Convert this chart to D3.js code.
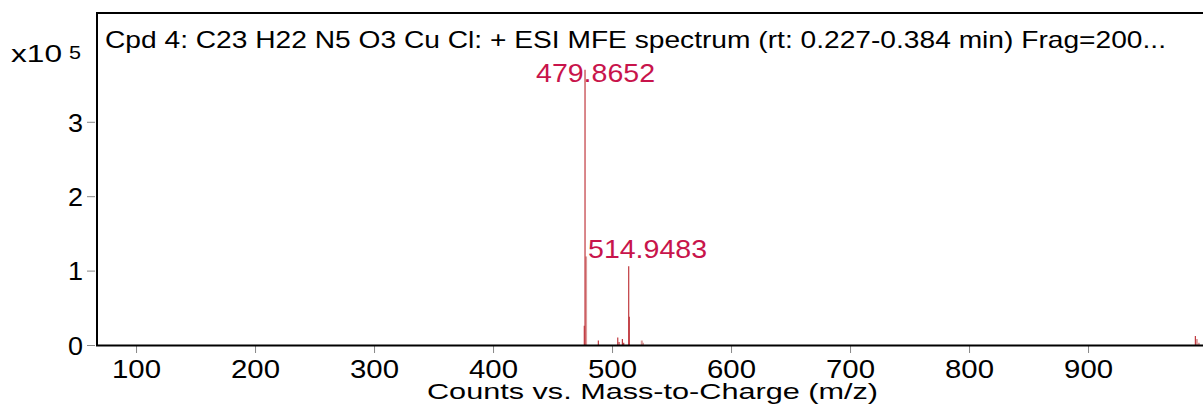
<!DOCTYPE html>
<html>
<head>
<meta charset="utf-8">
<script src="https://cdn.jsdelivr.net/npm/d3@7"></script>
<style>
  body { margin: 0; background: #fff; }
  svg { display: block; font-family: "Liberation Sans", Arial, sans-serif; }
  .tick line { stroke: #888; }
</style>
</head>
<body>
<svg width="1203" height="408"></svg>
<script>
// Data (intensity in units of 1e5 counts)
const title = 'Cpd 4: C23 H22 N5 O3 Cu Cl: + ESI MFE spectrum (rt: 0.227-0.384 min) Frag=200...';
const xTicks = [100, 200, 300, 400, 500, 600, 700, 800, 900];
const yTicks = [0, 1, 2, 3];

const mainMz = [476.7, 477.3, 488.5, 504.8, 505.9, 508.7, 509.8, 514.0, 514.5, 990.2];
const mainInt = [0.26, 3.70, 0.06, 0.10, 0.04, 0.08, 0.03, 1.06, 0.38, 0.12];

const minorMz = [478.2, 525.0, 526.0, 991.4, 993.1];
const minorInt = [1.19, 0.06, 0.03, 0.08, 0.03];

const peakLabels = ['479.8652', '514.9483'];

const svg = d3.select('svg');

const xScale = d3.scaleLinear()
  .domain([67.2, 996.6])
  .range([97, 1203]);

const yScale = d3.scaleLinear()
  .domain([0, 4.462])
  .range([345, 13]);

// axes
const xAxis = svg.append('g')
  .attr('transform', 'translate(0,346)')
  .call(d3.axisBottom(xScale).tickValues(xTicks).tickSize(7).tickSizeOuter(0));
xAxis.select('.domain').remove();
xAxis.selectAll('text')
  .attr('fill', '#000')
  .attr('font-size', 25)
  .attr('dy', 0)
  .attr('y', 32)
  .attr('textLength', 49)
  .attr('lengthAdjust', 'spacingAndGlyphs');

const yAxis = svg.append('g')
  .attr('transform', 'translate(95,0)')
  .call(d3.axisLeft(yScale).tickValues(yTicks).tickFormat(d3.format('d')).tickSize(8).tickSizeOuter(0));
yAxis.select('.domain').remove();
yAxis.selectAll('text')
  .attr('fill', '#000')
  .attr('font-size', 26)
  .attr('x', -12)
  .attr('dy', '0.36em')
  .attr('textLength', 15)
  .attr('lengthAdjust', 'spacingAndGlyphs');

// frame
svg.append('line')
  .attr('x1', 97).attr('x2', 97)
  .attr('y1', 12).attr('y2', 346)
  .attr('stroke', '#000').attr('stroke-width', 2);
svg.append('line')
  .attr('x1', 96).attr('x2', 1203)
  .attr('y1', 13).attr('y2', 13)
  .attr('stroke', '#000').attr('stroke-width', 2);

// peaks
const mainPeaks = mainMz.map((m, i) => ({ mz: m, v: mainInt[i] }));
const minorPeaks = minorMz.map((m, i) => ({ mz: m, v: minorInt[i] }));

svg.append('g')
  .selectAll('line')
  .data(minorPeaks)
  .enter()
  .append('line')
    .attr('x1', d => xScale(d.mz))
    .attr('x2', d => xScale(d.mz))
    .attr('y1', d => yScale(d.v))
    .attr('y2', yScale(0))
    .attr('stroke', '#dc9a9a')
    .attr('stroke-width', 2);

svg.append('g')
  .selectAll('line')
  .data(mainPeaks)
  .enter()
  .append('line')
    .attr('x1', d => xScale(d.mz))
    .attr('x2', d => xScale(d.mz))
    .attr('y1', d => yScale(d.v))
    .attr('y2', yScale(0))
    .attr('stroke', '#c0393f')
    .attr('stroke-width', 1.2);

// bottom axis line
svg.append('line')
  .attr('x1', 96).attr('x2', 1203)
  .attr('y1', 345.5).attr('y2', 345.5)
  .attr('stroke', '#000').attr('stroke-width', 2.2);

// peak labels
svg.append('text')
  .attr('x', xScale(mainMz[1]) - 49)
  .attr('y', yScale(mainInt[1]) + 12)
  .attr('font-size', 26)
  .attr('fill', '#c8144b')
  .attr('textLength', 119)
  .attr('lengthAdjust', 'spacingAndGlyphs')
  .text(peakLabels[0]);

svg.append('text')
  .attr('x', xScale(mainMz[1]) + 3)
  .attr('y', yScale(mainInt[7]) - 8)
  .attr('font-size', 26)
  .attr('fill', '#c8144b')
  .attr('textLength', 119)
  .attr('lengthAdjust', 'spacingAndGlyphs')
  .text(peakLabels[1]);

// title and labels
svg.append('text')
  .attr('x', 105)
  .attr('y', 48)
  .attr('font-size', 24)
  .attr('fill', '#000')
  .attr('textLength', 1061)
  .attr('lengthAdjust', 'spacingAndGlyphs')
  .text(title);

svg.append('text')
  .attr('x', 11)
  .attr('y', 62)
  .attr('font-size', 23)
  .attr('textLength', 51)
  .attr('lengthAdjust', 'spacingAndGlyphs')
  .text('x10');

svg.append('text')
  .attr('x', 69)
  .attr('y', 59)
  .attr('font-size', 18)
  .attr('textLength', 12)
  .attr('lengthAdjust', 'spacingAndGlyphs')
  .text('5');

svg.append('text')
  .attr('x', 427)
  .attr('y', 399)
  .attr('font-size', 22)
  .attr('textLength', 451)
  .attr('lengthAdjust', 'spacingAndGlyphs')
  .text('Counts vs. Mass-to-Charge (m/z)');
</script>
</body>
</html>
